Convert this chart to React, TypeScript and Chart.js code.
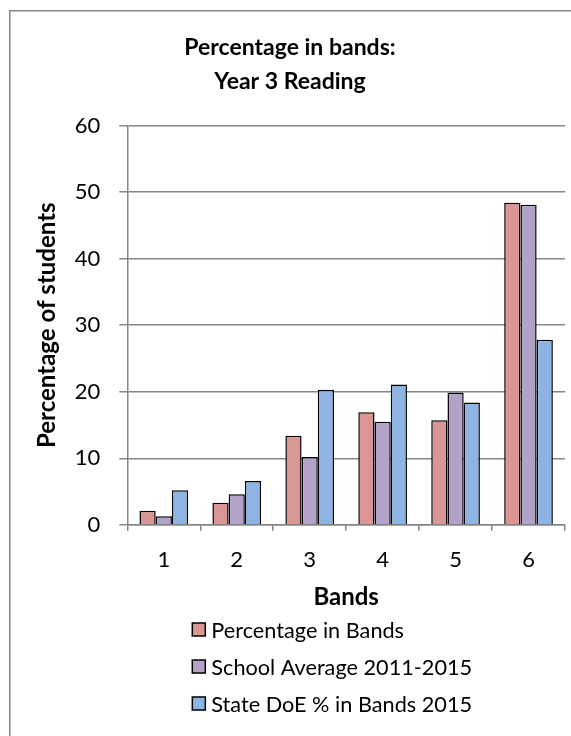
import { useEffect, useRef } from 'react';
import { Chart, registerables } from 'chart.js';

Chart.register(...registerables);

// Categories and series
const bands = ['1', '2', '3', '4', '5', '6'];
const percentageInBands = [2.1, 3.3, 13.4, 16.9, 15.7, 48.4];
const schoolAverage = [1.3, 4.6, 10.2, 15.5, 19.9, 48.1];
const stateDoeBands = [5.2, 6.6, 20.3, 21.1, 18.4, 27.8];

const seriesLabels = ['Percentage in Bands', 'School Average 2011-2015', 'State DoE % in Bands 2015'];
const seriesColors = ['#D99694', '#B3A2C7', '#8EB4E3'];

const titleLines = ['Percentage in bands:', 'Year 3 Reading'];
const yAxisTitle = 'Percentage of students';
const xAxisTitle = 'Bands';
const yTicks = [0, 10, 20, 30, 40, 50, 60];

const FONT = 'Lato, "Open Sans", sans-serif';
const GRID = '#868686';

// Outer frame of the chart object
const framePlugin = {
  id: 'frame',
  beforeDraw(chart: Chart) {
    const ctx = chart.ctx;
    ctx.save();
    ctx.fillStyle = '#ffffff';
    ctx.fillRect(0, 0, chart.width, chart.height);
    ctx.strokeStyle = GRID;
    ctx.lineWidth = 1.5;
    ctx.strokeRect(9.75, 10.75, chart.width + 40, chart.height + 40);
    ctx.restore();
  },
};

// Vertical legend under the axis title
const stackedLegendPlugin = {
  id: 'stackedLegend',
  afterDraw(chart: Chart) {
    const ctx = chart.ctx;
    const left = chart.chartArea.left + 65;
    const firstRow = 630;
    const rowGap = 37;
    ctx.save();
    ctx.font = `21.7px ${FONT}`;
    ctx.textBaseline = 'middle';
    ctx.textAlign = 'left';
    chart.data.datasets.forEach((ds, i) => {
      const y = firstRow + i * rowGap;
      ctx.fillStyle = ds.backgroundColor as string;
      ctx.fillRect(left, y - 7, 13, 13);
      ctx.strokeStyle = '#000000';
      ctx.lineWidth = 1.5;
      ctx.strokeRect(left, y - 7, 13, 13);
      ctx.fillStyle = '#000000';
      ctx.fillText(ds.label as string, left + 19, y + 1);
    });
    ctx.restore();
  },
};

export default function App() {
  const canvasRef = useRef<HTMLCanvasElement | null>(null);

  useEffect(() => {
    if (!canvasRef.current) return;
    const seriesValues = [percentageInBands, schoolAverage, stateDoeBands];
    const chart = new Chart(canvasRef.current, {
      type: 'bar',
      data: {
        labels: bands,
        datasets: seriesValues.map((values, i) => ({
          label: seriesLabels[i],
          data: values,
          backgroundColor: seriesColors[i],
          borderColor: '#000000',
          borderWidth: 1.5,
          borderSkipped: 'bottom',
          barPercentage: 1,
          categoryPercentage: 0.667,
        })),
      },
      options: {
        responsive: false,
        animation: false,
        devicePixelRatio: 1,
        layout: { padding: { top: 31, left: 15, right: 6, bottom: 124 } },
        plugins: {
          legend: { display: false },
          tooltip: { enabled: false },
          title: {
            display: true,
            text: titleLines,
            color: '#000000',
            font: { family: FONT, size: 23, weight: 'bold', lineHeight: 1.47 },
            padding: { top: 0, bottom: 27 },
          },
        },
        scales: {
          x: {
            grid: {
              display: true,
              drawOnChartArea: false,
              drawTicks: true,
              tickLength: 6,
              color: GRID,
              lineWidth: 1.5,
              offset: true,
            },
            border: { display: true, color: GRID, width: 1.5 },
            ticks: {
              color: '#000000',
              font: { family: FONT, size: 22 },
              padding: 16,
            },
            title: {
              display: true,
              text: xAxisTitle,
              color: '#000000',
              font: { family: FONT, size: 24, weight: 'bold' },
              padding: { top: -6, bottom: 0 },
            },
          },
          y: {
            min: 0,
            max: 60,
            afterBuildTicks(scale) {
              scale.ticks = yTicks.map((v) => ({ value: v }));
            },
            grid: {
              color: GRID,
              lineWidth: 1.5,
              tickLength: 8,
              drawTicks: true,
            },
            border: { display: true, color: GRID, width: 1.5 },
            ticks: {
              color: '#000000',
              font: { family: FONT, size: 22 },
              padding: 19,
            },
            title: {
              display: true,
              text: yAxisTitle,
              color: '#000000',
              font: { family: FONT, size: 24, weight: 'bold' },
              padding: { top: 18, bottom: -6 },
            },
          },
        },
      },
      plugins: [framePlugin, stackedLegendPlugin],
    });
    return () => chart.destroy();
  }, []);

  return (
    <div style={{ position: 'absolute', left: 0, top: 0, width: 571, height: 736, overflow: 'hidden' }}>
      <canvas ref={canvasRef} width={571} height={736} style={{ display: 'block', width: 571, height: 736 }} />
    </div>
  );
}
